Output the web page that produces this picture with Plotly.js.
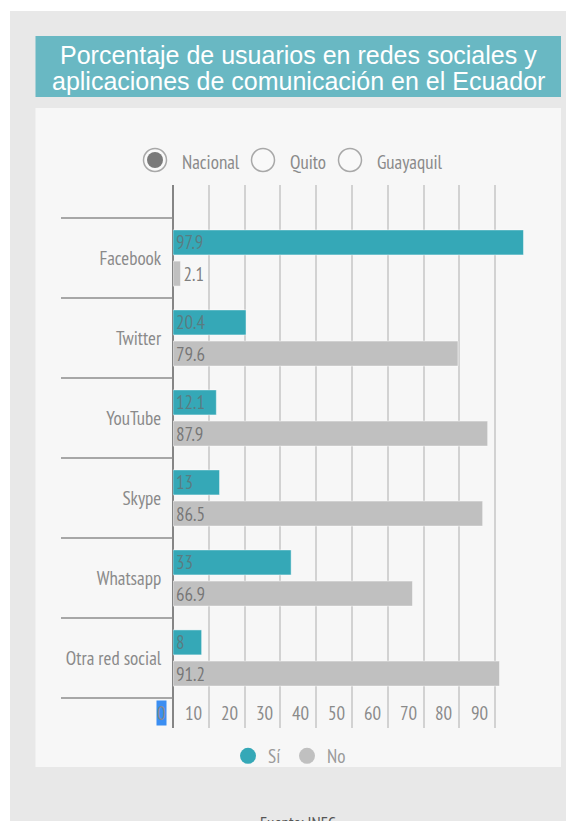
<!DOCTYPE html>
<html>
<head>
<meta charset="utf-8">
<script src="https://cdn.plot.ly/plotly-3.0.1.min.js"></script>
<style>
html,body{margin:0;padding:0;background:#fff;}
#chart{width:566px;height:821px;}
</style>
</head>
<body>
<div id="chart"></div>
<script>
// ---- data ----
const categories = ['Facebook', 'Twitter', 'YouTube', 'Skype', 'Whatsapp', 'Otra red social'];
const siValues = [97.9, 20.4, 12.1, 13, 33, 8];
const noValues = [2.1, 79.6, 87.9, 86.5, 66.9, 91.2];
const seriesNames = ['Sí', 'No'];
const xTickVals = [0, 10, 20, 30, 40, 50, 60, 70, 80, 90];
const xTickText = ['0', '10', '20', '30', '40', '50', '60', '70', '80', '90'];
const radioOptions = ['Nacional', 'Quito', 'Guayaquil'];
const titleLines = ['Porcentaje de usuarios en redes sociales y', 'aplicaciones de comunicación en el Ecuador'];
const sourceText = 'Fuente: INEC';

// ---- geometry helpers (pixel -> paper) ----
const W = 566, H = 821;
const M = {l: 173, r: 35, t: 185, b: 93};
const PW = W - M.l - M.r, PH = H - M.t - M.b;
const xp = px => (px - M.l) / PW;
const yp = py => (H - M.b - py) / PH;

const NARROW = "'PT Sans Narrow', 'Liberation Sans Narrow', 'DejaVu Sans Condensed', sans-serif";
const TEAL = '#35a8b7';
const GREY = '#c0c0c0';
const FS = 19;

const traces = [
  {
    type: 'bar', orientation: 'h', name: seriesNames[0],
    y: categories, x: siValues, text: siValues.map(String),
    textposition: 'inside', insidetextanchor: 'start', constraintext: 'none', textangle: 0,
    textfont: {family: NARROW, size: FS, color: 'rgba(105,105,105,0.7)'},
    marker: {color: TEAL, line: {color: 'rgba(255,255,255,0.45)', width: 1}},
    showlegend: false, hoverinfo: 'none', cliponaxis: false
  },
  {
    type: 'bar', orientation: 'h', name: seriesNames[1],
    y: categories, x: noValues, text: noValues.map(String),
    textposition: noValues.map(v => v < 5 ? 'outside' : 'inside'),
    insidetextanchor: 'start', constraintext: 'none', textangle: 0,
    textfont: {family: NARROW, size: FS, color: 'rgba(105,105,105,0.85)'},
    marker: {color: GREY, line: {color: 'rgba(255,255,255,0.45)', width: 1}},
    showlegend: false, hoverinfo: 'none', cliponaxis: false
  },
  {
    type: 'scatter', mode: 'markers', name: seriesNames[0], x: [null], y: [null],
    marker: {symbol: 'circle', size: 17, color: TEAL}, showlegend: true, hoverinfo: 'none'
  },
  {
    type: 'scatter', mode: 'markers', name: seriesNames[1], x: [null], y: [null],
    marker: {symbol: 'circle', size: 17, color: GREY}, showlegend: true, hoverinfo: 'none'
  }
];

const shapes = [];
// page textured grey
shapes.push({type: 'rect', xref: 'paper', yref: 'paper', layer: 'below',
  x0: xp(10), x1: xp(566), y0: yp(11), y1: yp(821), fillcolor: '#e8e8e8', line: {width: 0}});
// title box
shapes.push({type: 'rect', xref: 'paper', yref: 'paper', layer: 'below',
  x0: xp(35.5), x1: xp(561), y0: yp(36), y1: yp(97), fillcolor: '#69b8c3', line: {width: 0}});
// chart panel
shapes.push({type: 'rect', xref: 'paper', yref: 'paper', layer: 'below',
  x0: xp(35.5), x1: xp(561), y0: yp(108), y1: yp(767), fillcolor: '#f7f7f7', line: {width: 0}});
// category separators (y-axis ticks at boundaries)
for (let i = 0; i <= categories.length; i++) {
  shapes.push({type: 'line', xref: 'paper', yref: 'y', layer: 'above',
    x0: xp(61), x1: 0, y0: i - 0.5, y1: i - 0.5, line: {color: '#8c8c8c', width: 1.6}});
}
// radio buttons
const radioX = [155, 263, 350];
const radioY = 160;
radioOptions.forEach((r, i) => {
  shapes.push({type: 'circle', xref: 'paper', yref: 'paper', layer: 'above',
    x0: xp(radioX[i] - 11.5), x1: xp(radioX[i] + 11.5), y0: yp(radioY + 11.5), y1: yp(radioY - 11.5),
    fillcolor: '#f9f9f9', line: {color: '#a8a8a8', width: 1.5}});
  if (i === 0) {
    shapes.push({type: 'circle', xref: 'paper', yref: 'paper', layer: 'above',
      x0: xp(radioX[i] - 8), x1: xp(radioX[i] + 8), y0: yp(radioY + 8), y1: yp(radioY - 8),
      fillcolor: '#7a7a7a', line: {width: 0}});
  }
});

const annotations = [];
// title lines
const titleY = [55, 81];
titleLines.forEach((t, i) => {
  annotations.push({xref: 'paper', yref: 'paper', x: xp(298), y: yp(titleY[i]),
    xanchor: 'center', yanchor: 'middle', showarrow: false, text: t,
    font: {family: "'Liberation Sans', Arial, sans-serif", size: 25, color: '#ffffff'}});
});
// radio labels
const radioTextX = [180, 288, 375];
radioOptions.forEach((r, i) => {
  annotations.push({xref: 'paper', yref: 'paper', x: xp(radioTextX[i]), y: yp(radioY + 2),
    xanchor: 'left', yanchor: 'middle', showarrow: false, text: r,
    font: {family: NARROW, size: FS, color: '#8a8a8a'}});
});
// x tick labels, right aligned left of each gridline
xTickVals.forEach((v, i) => {
  annotations.push({xref: 'x', yref: 'paper', x: v, y: yp(713), xshift: -6,
    xanchor: 'right', yanchor: 'middle', showarrow: false, text: xTickText[i],
    bgcolor: i === 0 ? '#3b8ef2' : 'rgba(0,0,0,0)', borderpad: 0,
    font: {family: NARROW, size: FS, color: '#8a8a8a'}});
});
// source
annotations.push({xref: 'paper', yref: 'paper', x: xp(298), y: yp(810), xanchor: 'center', yanchor: 'top',
  showarrow: false, text: sourceText, font: {family: NARROW, size: 17, color: '#555555'}});

const layout = {
  width: W, height: H, margin: M,
  paper_bgcolor: '#ffffff', plot_bgcolor: 'rgba(0,0,0,0)',
  barmode: 'group', bargap: 0.22, bargroupgap: 0.2,
  font: {family: NARROW, color: '#8a8a8a', size: FS},
  xaxis: {
    range: [0, 100], tickvals: xTickVals, showticklabels: false,
    showgrid: true, gridcolor: '#d2d2d2', gridwidth: 2,
    zeroline: true, zerolinecolor: '#858585', zerolinewidth: 2,
    showline: false, ticks: '', fixedrange: true
  },
  yaxis: {
    type: 'category', categoryorder: 'array', categoryarray: categories,
    range: [5.875, -0.9125], showgrid: false, zeroline: false, showline: false,
    ticks: 'outside', ticklen: 7, tickcolor: 'rgba(0,0,0,0)',
    tickfont: {family: NARROW, size: FS, color: '#8a8a8a'}, fixedrange: true
  },
  legend: {
    orientation: 'h', x: xp(228), xanchor: 'left', y: yp(756), yanchor: 'middle',
    font: {family: NARROW, size: FS, color: '#9a9a9a'},
    entrywidth: 14, entrywidthmode: 'pixels', bgcolor: 'rgba(0,0,0,0)', itemclick: false, itemdoubleclick: false
  },
  shapes: shapes,
  annotations: annotations,
  showlegend: true
};

Plotly.newPlot('chart', traces, layout, {displayModeBar: false, staticPlot: true});
</script>
</body>
</html>
